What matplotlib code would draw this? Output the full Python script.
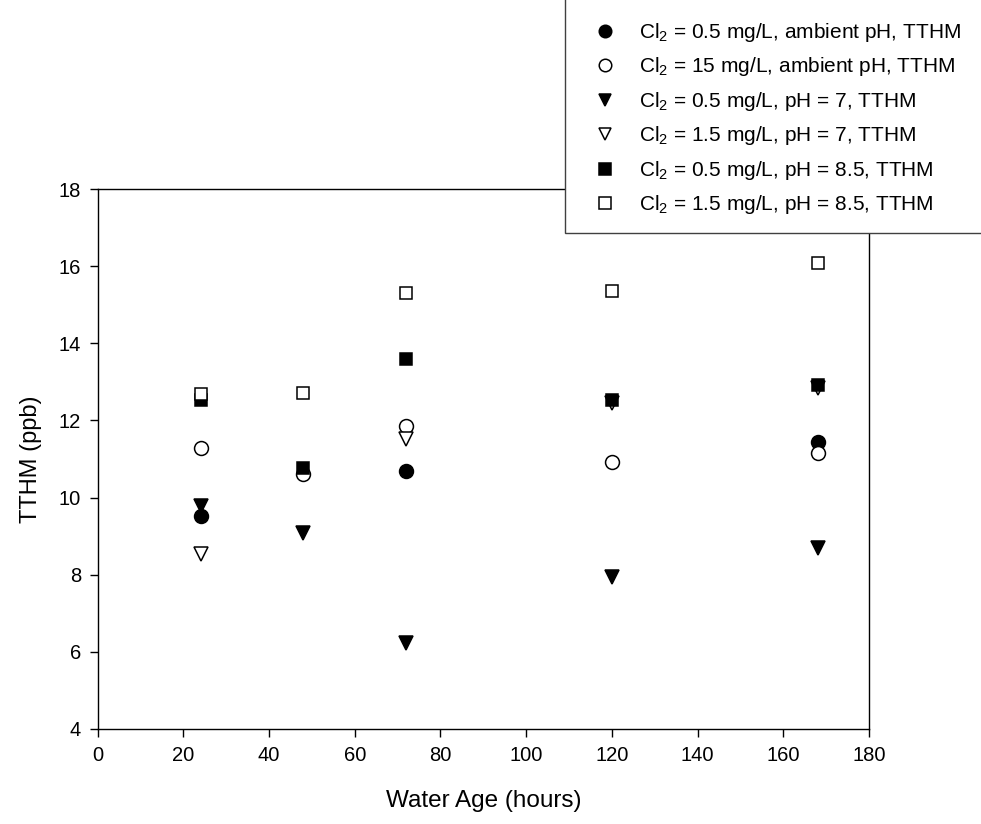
import numpy as np
import matplotlib
matplotlib.use('Agg')
import matplotlib.pyplot as plt
from matplotlib.patches import Rectangle

plt.rcParams['font.family'] = ['Liberation Sans', 'DejaVu Sans']
plt.rcParams['mathtext.default'] = 'regular'

# water age (hours)
hours = np.array([24, 48, 72, 120, 168])
nan = np.nan
# TTHM (ppb) per condition
cl05_ambient = [9.53, nan, 10.69, nan, 11.45]
cl15_ambient = [11.28, 10.62, 11.86, 10.93, 11.16]
cl05_ph7 = [9.78, 9.08, 6.24, 7.93, 8.70]
cl15_ph7 = [8.53, nan, 11.52, 12.45, 12.85]
cl05_ph85 = [12.54, 10.77, 13.59, 12.53, 12.93]
cl15_ph85 = [12.69, 12.71, 15.30, 15.36, 16.08]

labels = ['Cl$_2$ = 0.5 mg/L, ambient pH, TTHM',
          'Cl$_2$ = 15 mg/L, ambient pH, TTHM',
          'Cl$_2$ = 0.5 mg/L, pH = 7, TTHM',
          'Cl$_2$ = 1.5 mg/L, pH = 7, TTHM',
          'Cl$_2$ = 0.5 mg/L, pH = 8.5, TTHM',
          'Cl$_2$ = 1.5 mg/L, pH = 8.5, TTHM']

fig = plt.figure(figsize=(9.81, 8.24), dpi=100)
ax = fig.add_axes([0.0996, 0.1153, 0.7862, 0.6553])

series = [cl05_ambient, cl15_ambient, cl05_ph7, cl15_ph7, cl05_ph85, cl15_ph85]
styles = [('o', 'black', 10), ('o', 'white', 10), ('v', 'black', 10),
          ('v', 'white', 10), ('s', 'black', 9), ('s', 'white', 9)]
handles = []
for vals, (m, fc, ms), lab in zip(series, styles, labels):
    h, = ax.plot(hours, vals, linestyle='none', marker=m, markersize=ms,
                 markerfacecolor=fc, markeredgecolor='black', markeredgewidth=1.1,
                 label=lab)
    handles.append(h)

ax.set_xlim(0, 180)
ax.set_ylim(4, 18)
ax.set_xticks(range(0, 181, 20))
ax.set_yticks(range(4, 19, 2))
ax.tick_params(direction='out', length=6, width=1, labelsize=14.5, pad=6)
for sp in ax.spines.values():
    sp.set_linewidth(1.0)
ax.set_xlabel('Water Age (hours)', fontsize=17.5, labelpad=18)
ax.set_ylabel('TTHM (ppb)', fontsize=17, labelpad=12)

# legend box (runs off the right edge of the figure)
fig.patches.append(Rectangle((565 / 981, 1 - 233 / 824), 0.5, 233 / 824 + 0.01,
                             transform=fig.transFigure, facecolor='white',
                             edgecolor='#404040', linewidth=1.0, zorder=5))
leg = fig.legend(handles=handles, loc='upper left',
                 bbox_to_anchor=(595 / 981, 1 - 21 / 824), frameon=False,
                 fontsize=15, labelspacing=0.55, handletextpad=1.1,
                 handlelength=1.0, borderaxespad=0, borderpad=0,
                 markerscale=0.9)
leg.set_zorder(6)

fig.savefig('out.png', dpi=100)
